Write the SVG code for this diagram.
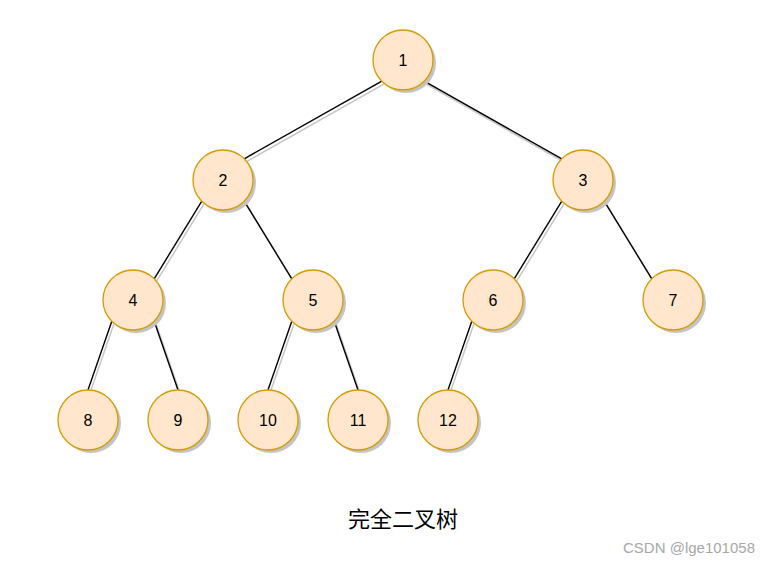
<svg xmlns="http://www.w3.org/2000/svg" width="770" height="563" viewBox="0 0 770 563">
<style>
.sh{fill:#c4c4c4;stroke:none}
.n{fill:#ffe6cc;stroke:#d79b00;stroke-width:1.3}
.t{font-family:"Liberation Sans",Arial,sans-serif;font-size:16px;fill:#000;text-anchor:middle}
.e{stroke:#000;stroke-width:1.4;fill:none}
.es{stroke:#c4c4c4;stroke-width:1.4;fill:none}
</style>
<rect width="770" height="563" fill="#fff"/>
<g id="connectors">
<g transform="translate(2,3)">
<line class="es" x1="381.8" y1="81.2" x2="244.2" y2="158.8"/>
<line class="es" x1="424.2" y1="81.2" x2="561.8" y2="158.8"/>
<line class="es" x1="201.8" y1="201.2" x2="154.2" y2="278.8"/>
<line class="es" x1="244.2" y1="201.2" x2="291.8" y2="278.8"/>
<line class="es" x1="561.8" y1="201.2" x2="514.2" y2="278.8"/>
<line class="es" x1="604.2" y1="201.2" x2="651.8" y2="278.8"/>
<line class="es" x1="111.8" y1="321.2" x2="88" y2="390"/>
<line class="es" x1="154.2" y1="321.2" x2="178" y2="390"/>
<line class="es" x1="291.8" y1="321.2" x2="268" y2="390"/>
<line class="es" x1="334.2" y1="321.2" x2="358" y2="390"/>
<line class="es" x1="471.8" y1="321.2" x2="448" y2="390"/>
</g>
<line class="e" x1="381.8" y1="81.2" x2="244.2" y2="158.8"/>
<line class="e" x1="424.2" y1="81.2" x2="561.8" y2="158.8"/>
<line class="e" x1="201.8" y1="201.2" x2="154.2" y2="278.8"/>
<line class="e" x1="244.2" y1="201.2" x2="291.8" y2="278.8"/>
<line class="e" x1="561.8" y1="201.2" x2="514.2" y2="278.8"/>
<line class="e" x1="604.2" y1="201.2" x2="651.8" y2="278.8"/>
<line class="e" x1="111.8" y1="321.2" x2="88" y2="390"/>
<line class="e" x1="154.2" y1="321.2" x2="178" y2="390"/>
<line class="e" x1="291.8" y1="321.2" x2="268" y2="390"/>
<line class="e" x1="334.2" y1="321.2" x2="358" y2="390"/>
<line class="e" x1="471.8" y1="321.2" x2="448" y2="390"/>
</g>
<g id="n1"><circle class="sh" cx="406" cy="63" r="30"/><circle class="n" cx="403" cy="60" r="30"/><text class="t" x="403" y="66">1</text></g>
<g id="n2"><circle class="sh" cx="226" cy="183" r="30"/><circle class="n" cx="223" cy="180" r="30"/><text class="t" x="223" y="186">2</text></g>
<g id="n3"><circle class="sh" cx="586" cy="183" r="30"/><circle class="n" cx="583" cy="180" r="30"/><text class="t" x="583" y="186">3</text></g>
<g id="n4"><circle class="sh" cx="136" cy="303" r="30"/><circle class="n" cx="133" cy="300" r="30"/><text class="t" x="133" y="306">4</text></g>
<g id="n5"><circle class="sh" cx="316" cy="303" r="30"/><circle class="n" cx="313" cy="300" r="30"/><text class="t" x="313" y="306">5</text></g>
<g id="n6"><circle class="sh" cx="496" cy="303" r="30"/><circle class="n" cx="493" cy="300" r="30"/><text class="t" x="493" y="306">6</text></g>
<g id="n7"><circle class="sh" cx="676" cy="303" r="30"/><circle class="n" cx="673" cy="300" r="30"/><text class="t" x="673" y="306">7</text></g>
<g id="n8"><circle class="sh" cx="91" cy="423" r="30"/><circle class="n" cx="88" cy="420" r="30"/><text class="t" x="88" y="426">8</text></g>
<g id="n9"><circle class="sh" cx="181" cy="423" r="30"/><circle class="n" cx="178" cy="420" r="30"/><text class="t" x="178" y="426">9</text></g>
<g id="n10"><circle class="sh" cx="271" cy="423" r="30"/><circle class="n" cx="268" cy="420" r="30"/><text class="t" x="268" y="426">10</text></g>
<g id="n11"><circle class="sh" cx="361" cy="423" r="30"/><circle class="n" cx="358" cy="420" r="30"/><text class="t" x="358" y="426">11</text></g>
<g id="n12"><circle class="sh" cx="451" cy="423" r="30"/><circle class="n" cx="448" cy="420" r="30"/><text class="t" x="448" y="426">12</text></g>
<text x="403" y="527" text-anchor="middle" font-family="'Liberation Sans','Noto Sans CJK SC',sans-serif" font-size="22" fill="#000">完全二叉树</text>
<text x="623" y="553" font-family="'Liberation Sans',Arial,sans-serif" font-size="15" fill="#a8a8a8">CSDN @lge101058</text>
</svg>
